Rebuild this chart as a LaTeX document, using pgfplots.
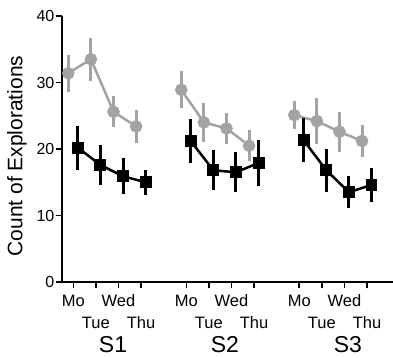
\documentclass[border=0pt]{standalone}
\usepackage{pgfplots}
\pgfplotsset{compat=1.18}
\usepackage{pgfplotstable}
\usepackage{fontspec}
\setmainfont{Liberation Sans}
\definecolor{gr}{RGB}{163,163,163}

\pgfplotstableread{
x y e
0.78 31.4 2.8
1.78 33.5 3.2
2.78 25.6 2.3
3.78 23.4 2.5
}\grayA
\pgfplotstableread{
x y e
5.78 28.9 2.8
6.78 24.0 2.9
7.78 23.1 2.3
8.78 20.5 2.3
}\grayB
\pgfplotstableread{
x y e
10.78 25.1 2.1
11.78 24.2 3.4
12.78 22.6 3.0
13.78 21.2 2.4
}\grayC
\pgfplotstableread{
x y e
1.2 20.2 3.3
2.2 17.6 3.0
3.2 15.9 2.7
4.2 15.0 1.9
}\blackA
\pgfplotstableread{
x y e
6.2 21.2 3.3
7.2 16.8 3.0
8.2 16.5 3.0
9.2 17.9 3.4
}\blackB
\pgfplotstableread{
x y e
11.2 21.3 3.3
12.2 16.8 3.2
13.2 13.5 2.4
14.2 14.6 2.5
}\blackC

\pgfplotsset{
  grayser/.style={gr, line width=2.5pt, mark=*, mark size=5pt,
    error bars/.cd, y dir=both, y explicit, error mark=none,
    error bar style={line width=3pt, gr}},
  blackser/.style={black, line width=2.5pt, mark=square*, mark size=4.7pt,
    error bars/.cd, y dir=both, y explicit, error mark=none,
    error bar style={line width=3pt, black}},
}

\begin{document}
\begin{tikzpicture}
\path[use as bounding box] (-62pt,-75pt) rectangle (331pt,282pt);
\begin{axis}[
  scale only axis, width=331pt, height=266pt,
  xmin=0.5, xmax=15.15, ymin=0, ymax=40,
  clip=false,
  axis x line=bottom, axis y line=left,
  axis line style={-, line width=1.5pt},
  ytick={0,10,20,30,40},
  xtick={1,3,6,8,11,13}, xticklabels={Mo,Wed,Mo,Wed,Mo,Wed},
  extra x ticks={2,4,7,9,12,14},
  extra x tick labels={Tue,Thu,Tue,Thu,Tue,Thu},
  extra x tick style={xticklabel style={yshift=-22pt}},
  tick align=outside, major tick length=6pt,
  tick style={line width=1.5pt, black},
  /pgf/number format/assume math mode=true,
  xticklabel style={font=\fontsize{16.5}{16.5}\selectfont, inner sep=1pt,
    text height=12pt, text depth=0pt, yshift=-5pt},
  yticklabel style={font=\fontsize{16}{16}\selectfont, inner sep=1.5pt},
  ylabel={Count of Explorations},
  ylabel style={at={([xshift=-45pt,yshift=-7pt]axis description cs:0,0.5)}, anchor=center,
    font=\fontsize{21}{21}\selectfont},
]
\addplot[grayser] table[x=x, y=y, y error=e] {\grayA};
\addplot[grayser] table[x=x, y=y, y error=e] {\grayB};
\addplot[grayser] table[x=x, y=y, y error=e] {\grayC};
\addplot[blackser] table[x=x, y=y, y error=e] {\blackA};
\addplot[blackser] table[x=x, y=y, y error=e] {\blackB};
\addplot[blackser] table[x=x, y=y, y error=e] {\blackC};
\node[font=\fontsize{23}{23}\selectfont, anchor=base] at (axis cs:2.76,0) [yshift=-70pt] {S1};
\node[font=\fontsize{23}{23}\selectfont, anchor=base] at (axis cs:7.71,0) [yshift=-70pt] {S2};
\node[font=\fontsize{23}{23}\selectfont, anchor=base] at (axis cs:13.15,0) [yshift=-70pt] {S3};
\end{axis}
\end{tikzpicture}
\end{document}
